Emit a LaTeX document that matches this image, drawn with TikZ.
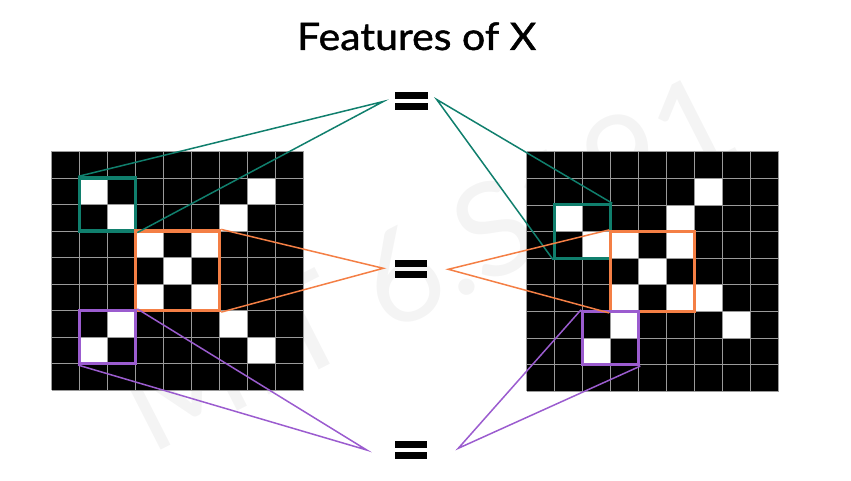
\documentclass[tikz,border=0pt]{standalone}
\usepackage{fontspec}
\setmainfont{Lato}
\newfontfamily\titlefont{Lato}[FakeBold=1.2]
\definecolor{tealc}{HTML}{107F6D}
\definecolor{orangec}{HTML}{F47F45}
\definecolor{purplec}{HTML}{9B5CCF}
\definecolor{gridc}{HTML}{9A9A9A}
\definecolor{wmark}{HTML}{F4F4F4}
\begin{document}
\begin{tikzpicture}[x=1pt,y=-1pt,
  gridbg/.style={fill=black,draw=none,inner sep=0,anchor=north west},
  gridline/.style={draw=gridc,line width=0.7pt},
  fbox/.style={draw,line width=3.2pt,inner sep=0,fill=none},
  conn/.style={line width=1.5pt},
  eqsign/.style={minimum width=32,minimum height=18,inner sep=0,draw=none},
  eqbar/.style={fill=black}]
\useasboundingbox (0,0) rectangle (851,481);
% watermark
\node[text=wmark,font=\fontsize{130}{130}\selectfont,rotate=27] (wm) at (428,262) {MIT 6.S191};
% title
\node[font=\titlefont\fontsize{38}{40}\selectfont,anchor=base,xscale=1.08] (title) at (416.7,50) {Features of X};
% left grid
\begin{scope}[shift={(51.7,151.5)},x=28pt,y=-26.5pt]
  \node[gridbg,minimum width=252,minimum height=238.5] (gridL) at (0,0) {};
  \foreach \r/\c in {1/1,1/7,2/2,2/6,3/3,3/5,4/4,5/3,5/5,6/2,6/6,7/1,7/7}
    \fill[white] (\c,\r) rectangle (\c+1,\r+1);
  \foreach \i in {0,...,9} {
    \draw[gridline] (\i,0) -- (\i,9);
    \draw[gridline] (0,\i) -- (9,\i);
  }
  \node[fbox,draw=tealc,minimum width=56,minimum height=53] (gL) at (2,2) {};
  \node[fbox,draw=orangec,minimum width=84,minimum height=79.5] (oL) at (4.5,4.5) {};
  \node[fbox,draw=purplec,minimum width=56,minimum height=53] (pL) at (2,7) {};
\end{scope}
% right grid
\begin{scope}[shift={(526.7,151.7)},x=28pt,y=-26.6pt]
  \node[gridbg,minimum width=252,minimum height=239.4] (gridR) at (0,0) {};
  \foreach \r/\c in {1/6,2/1,2/5,3/2,3/3,3/5,4/4,5/3,5/5,5/6,6/3,6/7,7/2}
    \fill[white] (\c,\r) rectangle (\c+1,\r+1);
  \foreach \i in {0,...,9} {
    \draw[gridline] (\i,0) -- (\i,9);
    \draw[gridline] (0,\i) -- (9,\i);
  }
  \node[fbox,draw=tealc,minimum width=56,minimum height=53.2] (gR) at (2,3) {};
  \node[fbox,draw=orangec,minimum width=84,minimum height=79.8] (oR) at (4.5,4.5) {};
  \node[fbox,draw=purplec,minimum width=56,minimum height=53.2] (pR) at (3,7) {};
\end{scope}
% equal signs
\node[eqsign] (eq1) at (411.5,101) {};
\node[eqsign] (eq2) at (411,269) {};
\node[eqsign] (eq3) at (411,450) {};
\foreach \e in {eq1,eq2,eq3} {
  \fill[eqbar] (\e.north west) rectangle ([yshift=-7.5pt]\e.north east);
  \fill[eqbar] (\e.south west) rectangle ([yshift=7.5pt]\e.south east);
}
% apex coordinates
\coordinate (a1l) at (383.3,101.5);
\coordinate (a1r) at (436.7,99.5);
\coordinate (a2l) at (383.3,268.3);
\coordinate (a2r) at (448.3,269.3);
\coordinate (a3l) at (366.7,450);
\coordinate (a3r) at (458.3,448.3);
% connectors
\draw[conn,tealc] (gL.north west) -- (a1l) -- (gL.south east);
\draw[conn,tealc] (gR.north east) -- (a1r) -- (gR.south west);
\draw[conn,orangec] (oL.north east) -- (a2l) -- (oL.south east);
\draw[conn,orangec] (oR.north west) -- (a2r) -- (oR.south west);
\draw[conn,purplec] (pL.north east) -- (a3l) -- (pL.south west);
\draw[conn,purplec] (pR.north west) -- (a3r) -- (pR.south east);
\end{tikzpicture}
\end{document}
